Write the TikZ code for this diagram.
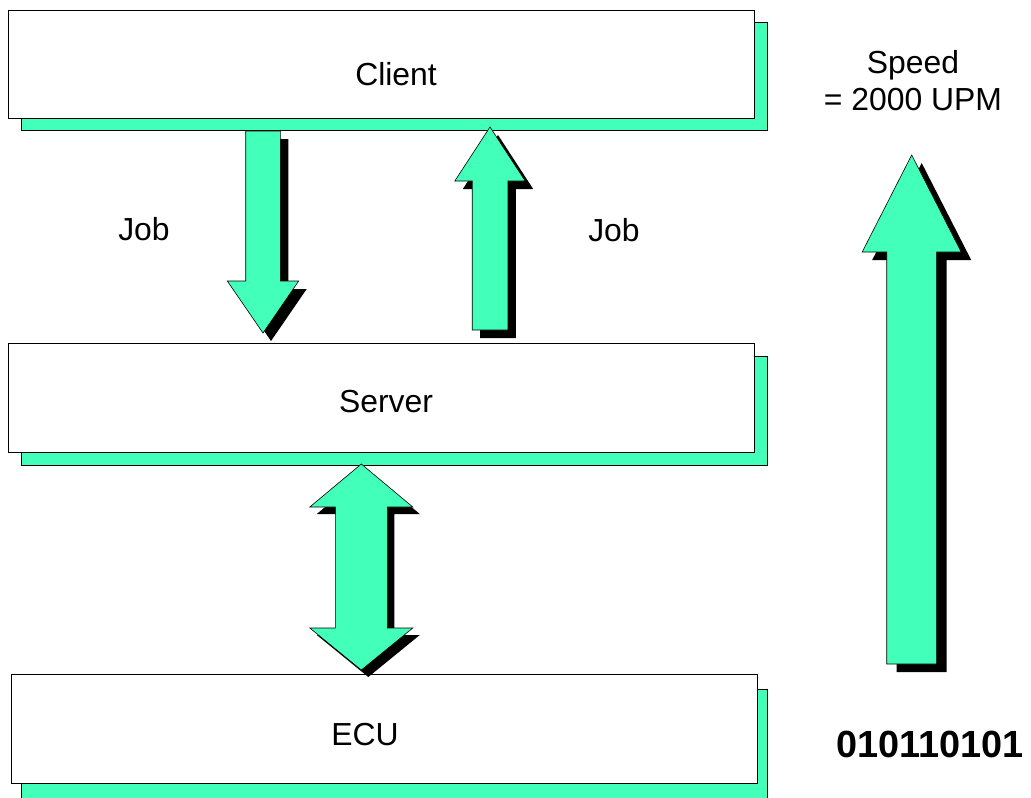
\documentclass[tikz,border=0pt]{standalone}
\usepackage{fontspec}
\setmainfont{Liberation Sans}
\definecolor{aqua}{RGB}{66,255,185}

% generic block arrow: style, centre x, shaft half width, head half width,
% shaft end y, head base y, tip y
\newcommand\SingleBlock[7]{%
  \path[#1] (#2-#3,#5) -- (#2+#3,#5) -- (#2+#3,#6) -- (#2+#4,#6) -- (#2,#7)
    -- (#2-#4,#6) -- (#2-#3,#6) -- cycle;}
% double headed block arrow: style, centre x, shaft half, head half,
% upper tip, upper base, lower base, lower tip
\newcommand\DoubleBlock[8]{%
  \path[#1] (#2,#5) -- (#2+#4,#6) -- (#2+#3,#6) -- (#2+#3,#7) -- (#2+#4,#7)
    -- (#2,#8) -- (#2-#4,#7) -- (#2-#3,#7) -- (#2-#3,#6) -- (#2-#4,#6) -- cycle;}

\begin{document}
\begin{tikzpicture}[x=1bp,y=-1bp,
  frontbox/.style={draw=black, line width=1.2bp, fill=white, inner sep=0pt,
    minimum width=746bp, minimum height=108bp, anchor=north west},
  shadowbox/.style={frontbox, fill=aqua},
  arrowbody/.style={fill=aqua, draw=black, line width=0.6bp, line join=miter},
  arrowshade/.style={fill=black, shift={#1}},
  lbl/.style={font=\fontsize{32}{37}\selectfont, inner sep=0pt, anchor=base},
  bits/.style={font=\bfseries\fontsize{38}{42}\selectfont, inner sep=0pt, anchor=base}]
\useasboundingbox (0,0) rectangle (1031,798);

% layered boxes
\node[shadowbox] (clientshadow) at (21,22) {};
\node[frontbox] (client) at (8,10) {};
\node[shadowbox, minimum height=109bp] (servershadow) at (21,356) {};
\node[frontbox, minimum height=109bp] (server) at (8,343) {};
\node[shadowbox, minimum height=112bp] (ecushadow) at (21,689) {};
\node[frontbox, minimum height=109bp] (ecu) at (11,674) {};

% job request: client to server
\SingleBlock{arrowshade={(8,8)}}{263}{17.3}{35.7}{131}{281}{333}
\SingleBlock{arrowbody}{263}{17.3}{35.7}{131}{281}{333}
% job answer: server to client
\SingleBlock{arrowshade={(8,8)}}{490}{17.8}{35.2}{330}{181}{127}
\SingleBlock{arrowbody}{490}{17.8}{35.2}{330}{181}{127}
% server <-> ECU link
\DoubleBlock{arrowshade={(7,7)}}{361.3}{26}{51.5}{464}{507}{628}{670}
\DoubleBlock{arrowbody}{361.3}{26}{51.5}{464}{507}{628}{670}
% speed arrow
\SingleBlock{arrowshade={(10,8)}}{911.7}{25}{49.5}{664}{252}{155}
\SingleBlock{arrowbody}{911.7}{25}{49.5}{664}{252}{155}

% labels
\node[lbl] (clienttext) at (396,86) {Client};
\node[lbl] (servertext) at (386,412) {Server};
\node[lbl] (ecutext) at (365,745) {ECU};
\node[lbl] (jobleft) at (144,240) {Job};
\node[lbl] (jobright) at (614,241) {Job};
\node[lbl, align=center] (speed) at (913,110) {Speed\\= 2000 UPM};
\node[bits] (bitstext) at (930,757) {010110101};
\end{tikzpicture}
\end{document}
